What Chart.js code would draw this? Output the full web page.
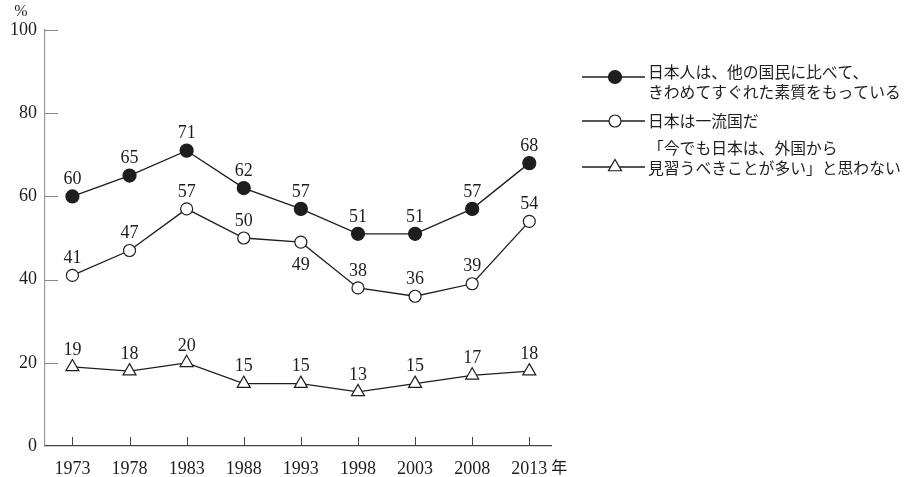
<!DOCTYPE html>
<html lang="ja">
<head>
<meta charset="utf-8">
<script src="https://cdn.jsdelivr.net/npm/chart.js@4.4.1/dist/chart.umd.min.js"></script>
<style>
  html, body { margin: 0; padding: 0; background: #fff; }
  #wrap { position: relative; width: 912px; height: 477px; }
</style>
</head>
<body>
<div id="wrap"><canvas id="chart" width="912" height="477"></canvas></div>
<script>
/* ==========================================
   Survey trend chart (1973 - 2013)
========================================== */

const years = [1973, 1978, 1983, 1988, 1993, 1998, 2003, 2008, 2013];
const superiorValues = [60, 65, 71, 62, 57, 51, 51, 57, 68];
const firstClassValues = [41, 47, 57, 50, 49, 38, 36, 39, 54];
const noNeedToLearnValues = [19, 18, 20, 15, 15, 13, 15, 17, 18];
const yTickValues = [0, 20, 40, 60, 80, 100];
const seriesLabels = [
  ["日本人は、他の国民に比べて、", "きわめてすぐれた素質をもっている"],
  ["日本は一流国だ"],
  ["「今でも日本は、外国から", "見習うべきことが多い」と思わない"],
];

const SERIF = '"Liberation Serif", "DejaVu Serif", serif';
const JP = '"Noto Sans CJK JP", sans-serif';
const INK = "#1e1e1e";

function toPoints(values) {
  return values.map((v, i) => ({ x: years[i], y: v }));
}

// tick marks drawn inward, the way the printed chart has them
const tickMarks = {
  id: "tickMarks",
  afterDraw(chart) {
    const { ctx, scales, chartArea } = chart;
    ctx.save();
    ctx.lineWidth = 1;
    ctx.strokeStyle = "#888";
    scales.y.ticks.forEach((t) => {
      if (t.value === 0) return;
      const y = Math.round(scales.y.getPixelForValue(t.value)) + 0.5;
      ctx.beginPath();
      ctx.moveTo(chartArea.left, y);
      ctx.lineTo(chartArea.left + 13, y);
      ctx.stroke();
    });
    ctx.strokeStyle = "#444";
    scales.x.ticks.forEach((t) => {
      const x = Math.round(scales.x.getPixelForValue(t.value)) + 0.5;
      ctx.beginPath();
      ctx.moveTo(x, chartArea.bottom);
      ctx.lineTo(x, chartArea.bottom - 9);
      ctx.stroke();
    });

    // unit marks
    ctx.fillStyle = INK;
    ctx.font = "16px " + SERIF;
    ctx.textAlign = "center";
    ctx.textBaseline = "middle";
    ctx.fillText("%", 21, 12);
    const last = scales.x.getPixelForValue(years[years.length - 1]);
    ctx.font = "16px " + JP;
    ctx.textAlign = "left";
    ctx.fillText("年", last + 22, chartArea.bottom + 21);
    ctx.restore();
  },
};

// value labels above (or below) each point
const valueLabels = {
  id: "valueLabels",
  afterDatasetsDraw(chart) {
    const { ctx } = chart;
    ctx.save();
    ctx.fillStyle = INK;
    ctx.font = "18px " + SERIF;
    ctx.textAlign = "center";
    ctx.textBaseline = "middle";
    chart.data.datasets.forEach((ds, di) => {
      const meta = chart.getDatasetMeta(di);
      meta.data.forEach((pt, i) => {
        const below = (ds.labelBelow || []).includes(i);
        ctx.fillText(String(ds.data[i].y), pt.x, below ? pt.y + 23 : pt.y - 17);
      });
    });
    ctx.restore();
  },
};

// legend on the right, line + marker + wrapped text
const sideLegend = {
  id: "sideLegend",
  afterDraw(chart) {
    const { ctx } = chart;
    const rows = [
      { lineY: 77, textY: [72, 92] },
      { lineY: 121, textY: [121] },
      { lineY: 167, textY: [148, 168] },
    ];
    ctx.save();
    chart.data.datasets.forEach((ds, i) => {
      const row = rows[i];
      ctx.strokeStyle = INK;
      ctx.lineWidth = 1.3;
      ctx.beginPath();
      ctx.moveTo(582, row.lineY);
      ctx.lineTo(645, row.lineY);
      ctx.stroke();
      ctx.fillStyle = ds.pointBackgroundColor;
      ctx.strokeStyle = ds.pointBorderColor;
      ctx.lineWidth = ds.pointBorderWidth;
      Chart.helpers.drawPoint(ctx, {
        pointStyle: ds.pointStyle,
        radius: ds.pointRadius,
        rotation: 0,
        borderWidth: ds.pointBorderWidth,
      }, 615, row.lineY);
      ctx.fillStyle = INK;
      ctx.font = "15.8px " + JP;
      ctx.textAlign = "left";
      ctx.textBaseline = "middle";
      ds.legendLines.forEach((line, k) => ctx.fillText(line, 648, row.textY[k]));
    });
    ctx.restore();
  },
};

const lineStyle = {
  borderColor: INK,
  borderWidth: 1.3,
  pointBorderColor: INK,
  pointBorderWidth: 1.2,
  pointHoverRadius: 7,
  tension: 0,
  clip: false,
};

new Chart(document.getElementById("chart"), {
  type: "line",
  data: {
    datasets: [
      { ...lineStyle, label: seriesLabels[0].join(""), legendLines: seriesLabels[0], data: toPoints(superiorValues),
        pointStyle: "circle", pointRadius: 6.5, pointBackgroundColor: INK },
      { ...lineStyle, label: seriesLabels[1].join(""), legendLines: seriesLabels[1], data: toPoints(firstClassValues),
        pointStyle: "circle", pointRadius: 6, pointBackgroundColor: "#fff", labelBelow: [4] },
      { ...lineStyle, label: seriesLabels[2].join(""), legendLines: seriesLabels[2], data: toPoints(noNeedToLearnValues),
        pointStyle: "triangle", pointRadius: 7.5, pointBackgroundColor: "#fff" },
    ],
  },
  options: {
    responsive: false,
    animation: false,
    devicePixelRatio: 1,
    layout: { padding: { top: 30, right: 361, bottom: 0, left: 0 } },
    plugins: { legend: { display: false }, tooltip: { enabled: false } },
    scales: {
      x: {
        type: "linear",
        min: 1970.6,
        max: 2014.9,
        afterBuildTicks: (scale) => { scale.ticks = years.map((v) => ({ value: v })); },
        afterFit: (scale) => { scale.height = 31; },
        grid: { display: false, drawTicks: false },
        border: { display: true, color: "#444", width: 1.2 },
        ticks: { color: INK, font: { family: SERIF, size: 18 }, padding: 12, maxRotation: 0, autoSkip: false,
          callback: (v) => String(v) },
      },
      y: {
        min: 0,
        max: 100,
        afterBuildTicks: (scale) => { scale.ticks = yTickValues.map((v) => ({ value: v })); },
        afterFit: (scale) => { scale.width = 45; },
        grid: { display: false, drawTicks: false },
        border: { display: true, color: "#999", width: 1.2 },
        ticks: { color: INK, font: { family: SERIF, size: 18 }, padding: 8 },
      },
    },
  },
  plugins: [tickMarks, valueLabels, sideLegend],
});
</script>
</body>
</html>
